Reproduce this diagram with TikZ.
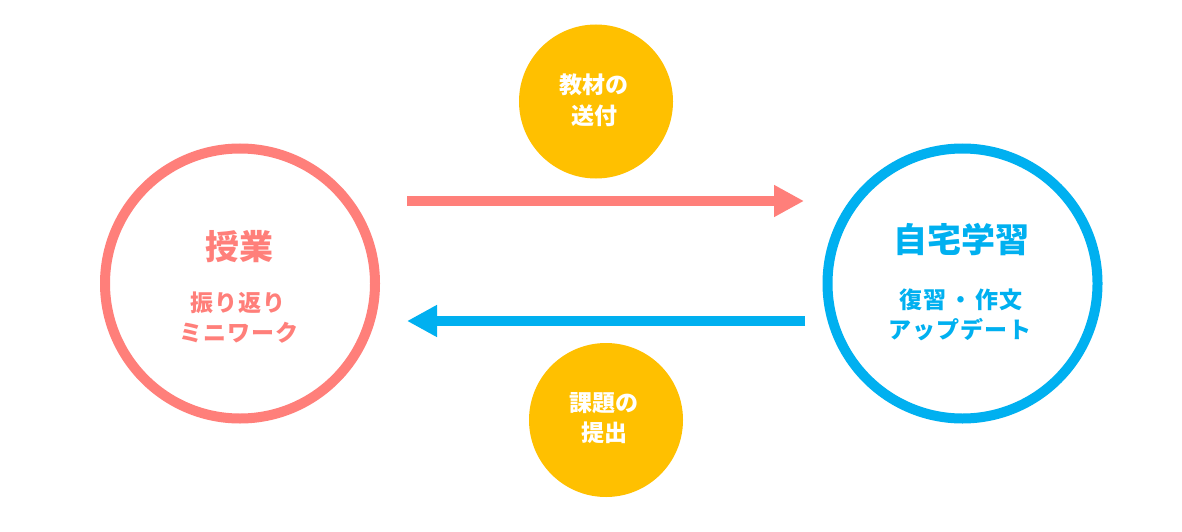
\documentclass[tikz,border=0pt]{standalone}
\usepackage{fontspec}
\setmainfont{Noto Sans CJK JP}
\newfontfamily\spacedjp{Noto Sans CJK JP}[LetterSpace=4]
\usetikzlibrary{arrows.meta}
\definecolor{pinkc}{HTML}{FF7F7A}
\definecolor{bluec}{HTML}{00B0F0}
\definecolor{yellowc}{HTML}{FFC000}
\begin{document}
\begin{tikzpicture}[x=1pt,y=-1pt,
  ring/.style={circle,draw=#1,line width=10pt,minimum size=270pt,inner sep=0pt},
  bubble/.style={circle,fill=yellowc,minimum size=154pt,inner sep=0pt},
  bigtxt/.style={text=#1,font=\fontsize{34}{40}\selectfont\bfseries,inner sep=0pt},
  smalltxt/.style={text=#1,font=\spacedjp\fontsize{23}{28}\selectfont\bfseries,inner sep=0pt},
  bubtxt/.style={text=white,font=\fontsize{23}{28}\selectfont\bfseries,inner sep=0pt},
  fatarrow/.style={draw=#1,line width=10pt,-{Triangle[length=30pt,width=30pt]}}
]
\useasboundingbox (0,0) rectangle (1182,532);
\fill[white] (0,0) rectangle (1182,532);
% main circles
\node[ring=pinkc] (L) at (240,283.5) {};
\node[ring=bluec] (R) at (962.5,283.5) {};
% yellow bubbles
\node[bubble] (T) at (596,101.5) {};
\node[bubble] (B) at (606,420) {};
% texts left
\node[bigtxt=pinkc] (L1) at (239,247) {授業};
\node[smalltxt=pinkc] (L2) at (238,303) {振り返り};
\node[smalltxt=pinkc] (L3) at (239,333) {ミニワーク};
% texts right
\node[bigtxt=bluec] (R1) at (961,240) {自宅学習};
\node[smalltxt=bluec] (R2) at (961,300) {復習\hspace{3pt}・\hspace{3pt}作文};
\node[smalltxt=bluec] (R3) at (960,330) {アップデート};
% bubble texts
\node[bubtxt] (T1) at (594,85) {教材の};
\node[bubtxt] (T2) at (594,116) {送付};
\node[bubtxt] (B1) at (604,403) {課題の};
\node[bubtxt] (B2) at (604,433) {提出};
% arrows
\coordinate (a1s) at (407,201);
\coordinate (a1e) at (804,201);
\coordinate (a2s) at (805,321);
\coordinate (a2e) at (407,321);
\draw[fatarrow=pinkc] (a1s) -- (a1e);
\draw[fatarrow=bluec] (a2s) -- (a2e);
\end{tikzpicture}
\end{document}
